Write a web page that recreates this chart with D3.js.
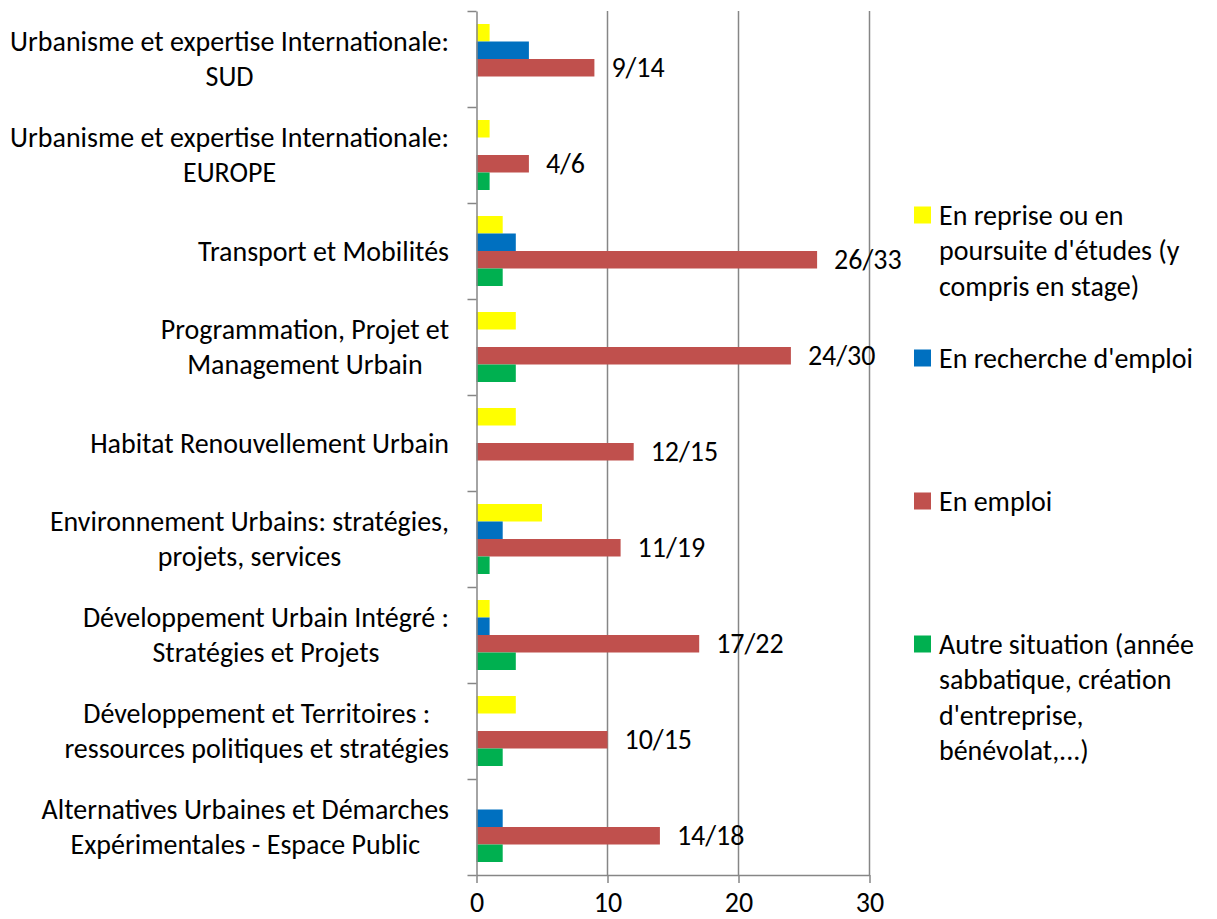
<!DOCTYPE html>
<html>
<head>
<meta charset="utf-8">
<script src="https://cdn.jsdelivr.net/npm/d3@7"></script>
<style>
  html, body { margin: 0; padding: 0; background: #fff; }
  svg { display: block; }
  text { font-family: Carlito, Calibri, Lato, "Open Sans", sans-serif; fill: #000; }
</style>
</head>
<body>
<svg id="chart" width="1217" height="919"></svg>
<script>
// ---- data ----
const categories = [
  ["Urbanisme et expertise Internationale:", "SUD"],
  ["Urbanisme et expertise Internationale:", "EUROPE"],
  ["Transport et Mobilités"],
  ["Programmation, Projet et", "Management Urbain"],
  ["Habitat Renouvellement Urbain"],
  ["Environnement Urbains: stratégies,", "projets, services"],
  ["Développement Urbain Intégré :", "Stratégies et Projets"],
  ["Développement et Territoires :", "ressources politiques et stratégies"],
  ["Alternatives Urbaines et Démarches", "Expérimentales - Espace Public"]
];
const seriesNames = [
  ["En reprise ou en", "poursuite d'études (y", "compris en stage)"],
  ["En recherche d'emploi"],
  ["En emploi"],
  ["Autre situation (année", "sabbatique, création", "d'entreprise,", "bénévolat,...)"]
];
const seriesColors = ["#FFFF00", "#0070C0", "#C0504D", "#00B050"];
const reprise   = [1, 1, 2, 3, 3, 5, 1, 3, 0];
const recherche = [4, 0, 3, 0, 0, 2, 1, 0, 2];
const emploi    = [9, 4, 26, 24, 12, 11, 17, 10, 14];
const autre     = [0, 1, 2, 3, 0, 1, 3, 2, 2];
const emploiLabels = ["9/14", "4/6", "26/33", "24/30", "12/15", "11/19", "17/22", "10/15", "14/18"];
const xTicks = [0, 10, 20, 30];

const seriesValues = [reprise, recherche, emploi, autre];

// ---- layout ----
const svg = d3.select("#chart");
const plot = { left: 476.5, right: 869.5, top: 11, bottom: 875 };
const axisColor = "#868686";

// font size: fit the longest label to reference width
const probe = svg.append("text").attr("font-size", 100).text("Urbanisme et expertise Internationale:");
const probeW = probe.node().getComputedTextLength();
probe.remove();
const fs = Math.min(28, 100 * 439 / probeW);

const x = d3.scaleLinear().domain([0, 30]).range([plot.left, plot.right]);
const idx = d3.range(categories.length);
const y0 = d3.scaleBand().domain(idx).range([plot.top, plot.bottom]).paddingInner(0).paddingOuter(0);
const y1 = d3.scaleBand().domain(d3.range(4)).range([0, y0.bandwidth()]).paddingInner(0).paddingOuter(0.743);

// gridlines
svg.append("g").selectAll("line")
  .data(xTicks.filter(t => t > 0))
  .join("line")
  .attr("x1", d => x(d)).attr("x2", d => x(d))
  .attr("y1", plot.top).attr("y2", plot.bottom)
  .attr("stroke", axisColor).attr("stroke-width", 1.5);

// bars
const groups = svg.append("g").selectAll("g")
  .data(idx)
  .join("g")
  .attr("transform", i => `translate(0,${y0(i)})`);

groups.selectAll("rect")
  .data(i => seriesValues.map((arr, s) => ({ s, v: arr[i] })))
  .join("rect")
  .attr("x", x(0))
  .attr("y", d => y1(d.s))
  .attr("width", d => x(d.v) - x(0))
  .attr("height", y1.bandwidth())
  .attr("fill", d => seriesColors[d.s]);

// data labels for "En emploi"
svg.append("g").selectAll("text")
  .data(idx)
  .join("text")
  .attr("x", i => x(emploi[i]) + 17)
  .attr("y", i => y0(i) + y1(2) + y1.bandwidth() / 2)
  .attr("dominant-baseline", "central")
  .attr("font-size", fs)
  .text(i => emploiLabels[i]);

// left axis (category boundaries)
const yB = d3.scaleLinear().domain([0, categories.length]).range([plot.top, plot.bottom]);
const gL = svg.append("g").attr("transform", `translate(${plot.left},0)`)
  .call(d3.axisLeft(yB).ticks(categories.length).tickFormat("").tickSizeInner(9).tickSizeOuter(0));
gL.selectAll("line, path").attr("stroke", axisColor).attr("stroke-width", 1.5);

// bottom axis
const gB = svg.append("g").attr("transform", `translate(0,${plot.bottom})`)
  .call(d3.axisBottom(x).tickValues(xTicks).tickSizeInner(8).tickSizeOuter(0));
gB.selectAll("line, path").attr("stroke", axisColor).attr("stroke-width", 1.5);
gB.selectAll("text")
  .attr("y", 37).attr("dy", null)
  .attr("font-size", fs)
  .attr("font-family", null)
  .attr("fill", "#000");
gB.attr("font-family", null).attr("font-size", null);

// category labels
const lineH = 35;
const labelRight = 449;
const cat = svg.append("g").selectAll("g")
  .data(idx)
  .join("g");
cat.each(function(i) {
  const g = d3.select(this);
  const lines = categories[i];
  const cy = y0(i) + y0.bandwidth() / 2;
  const texts = g.selectAll("text").data(lines).join("text")
    .attr("font-size", fs)
    .attr("text-anchor", "middle")
    .attr("dominant-baseline", "central")
    .attr("y", (d, j) => cy + (j - (lines.length - 1) / 2) * lineH)
    .text(d => d);
  let w = 0;
  texts.each(function() { w = Math.max(w, this.getComputedTextLength()); });
  texts.attr("x", labelRight - w / 2);
});

// legend
const legendX = 914, legendTextX = 939, legendTop = 215, legendStep = 143, legendLineH = 35.5, sw = 17;
const leg = svg.append("g").selectAll("g")
  .data(d3.range(seriesNames.length))
  .join("g")
  .attr("transform", s => `translate(0,${legendTop + s * legendStep})`);
leg.append("rect")
  .attr("x", legendX).attr("y", -sw / 2)
  .attr("width", sw).attr("height", sw)
  .attr("fill", s => seriesColors[s]);
leg.each(function(s) {
  d3.select(this).selectAll("text").data(seriesNames[s]).join("text")
    .attr("x", legendTextX)
    .attr("y", (d, j) => j * legendLineH)
    .attr("dominant-baseline", "central")
    .attr("font-size", fs)
    .text(d => d);
});
</script>
</body>
</html>
